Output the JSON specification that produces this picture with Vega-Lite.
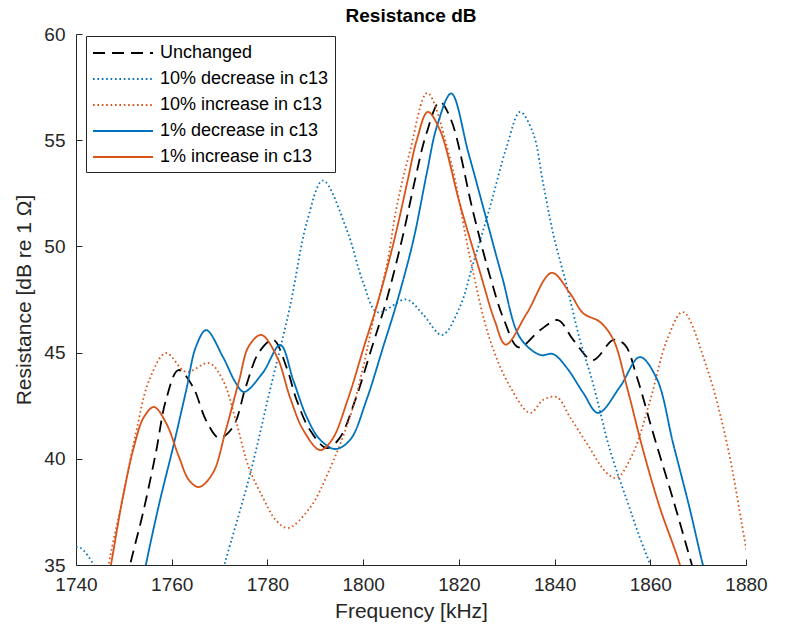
{
  "$schema": "https://vega.github.io/schema/vega-lite/v6.json",
  "width": 670,
  "height": 531,
  "autosize": {"type": "none"},
  "padding": {"left": 76, "top": 34, "right": 41, "bottom": 70},
  "background": "white",
  "config": {
    "font": "Liberation Sans",
    "view": {"stroke": null},
    "axis": {"grid": false, "domainColor": "#262626", "tickColor": "#262626", "labelColor": "#262626", "titleColor": "#262626", "labelFontSize": 19, "titleFontSize": 21, "titleFontWeight": "normal", "tickSize": -6, "labelFlush": false, "labelOverlap": false},
    "title": {"fontSize": 19, "fontWeight": "bold", "color": "#000000", "offset": -1}
  },
  "title": "Resistance dB",
  "data": {"values": [
    {"s":"Unchanged","f":1749,"v":32.5},{"s":"Unchanged","f":1751.3,"v":35},{"s":"Unchanged","f":1754,"v":37.45},{"s":"Unchanged","f":1756.7,"v":40.3},{"s":"Unchanged","f":1758.8,"v":42.77},{"s":"Unchanged","f":1761.4,"v":44.18},{"s":"Unchanged","f":1764.4,"v":43.4},{"s":"Unchanged","f":1767.2,"v":41.8},{"s":"Unchanged","f":1769.9,"v":40.98},{"s":"Unchanged","f":1772.8,"v":41.5},{"s":"Unchanged","f":1775.5,"v":43.4},{"s":"Unchanged","f":1778.2,"v":45},{"s":"Unchanged","f":1781.2,"v":45.6},{"s":"Unchanged","f":1784,"v":44.3},{"s":"Unchanged","f":1786.1,"v":42.77},{"s":"Unchanged","f":1788.9,"v":41.35},{"s":"Unchanged","f":1792.4,"v":40.5},{"s":"Unchanged","f":1795,"v":40.95},{"s":"Unchanged","f":1798.4,"v":42.8},{"s":"Unchanged","f":1801.9,"v":45.3},{"s":"Unchanged","f":1804.8,"v":47.4},{"s":"Unchanged","f":1808.2,"v":50.4},{"s":"Unchanged","f":1811,"v":53.3},{"s":"Unchanged","f":1813.2,"v":55.3},{"s":"Unchanged","f":1816,"v":56.8},{"s":"Unchanged","f":1818.3,"v":56.0},{"s":"Unchanged","f":1823,"v":51.6},{"s":"Unchanged","f":1826.5,"v":48.6},{"s":"Unchanged","f":1829.5,"v":46.5},{"s":"Unchanged","f":1832.5,"v":45.25},{"s":"Unchanged","f":1837,"v":46.06},{"s":"Unchanged","f":1840.7,"v":46.53},{"s":"Unchanged","f":1843.9,"v":45.6},{"s":"Unchanged","f":1848,"v":44.65},{"s":"Unchanged","f":1852.3,"v":45.6},{"s":"Unchanged","f":1854.7,"v":45.36},{"s":"Unchanged","f":1857.2,"v":43.85},{"s":"Unchanged","f":1860.6,"v":41.2},{"s":"Unchanged","f":1864.8,"v":38.06},{"s":"Unchanged","f":1868.7,"v":35},{"s":"Unchanged","f":1871.5,"v":32.8},

    {"s":"10% decrease in c13","f":1740,"v":35.85},{"s":"10% decrease in c13","f":1741,"v":35.8},{"s":"10% decrease in c13","f":1743.7,"v":35},{"s":"10% decrease in c13","f":1746,"v":33.5},{"s":"10% decrease in c13","f":1768,"v":32.5},{"s":"10% decrease in c13","f":1771,"v":35},{"s":"10% decrease in c13","f":1776.4,"v":39.3},{"s":"10% decrease in c13","f":1780.5,"v":43.2},{"s":"10% decrease in c13","f":1784.7,"v":47.15},{"s":"10% decrease in c13","f":1788.2,"v":51.1},{"s":"10% decrease in c13","f":1791.6,"v":53.1},{"s":"10% decrease in c13","f":1796.6,"v":50.77},{"s":"10% decrease in c13","f":1800,"v":48.3},{"s":"10% decrease in c13","f":1803,"v":46.9},{"s":"10% decrease in c13","f":1809,"v":47.5},{"s":"10% decrease in c13","f":1812.5,"v":46.8},{"s":"10% decrease in c13","f":1816.5,"v":45.83},{"s":"10% decrease in c13","f":1820.2,"v":47.15},{"s":"10% decrease in c13","f":1823,"v":49.2},{"s":"10% decrease in c13","f":1826.5,"v":51.85},{"s":"10% decrease in c13","f":1830,"v":54.7},{"s":"10% decrease in c13","f":1832.8,"v":56.33},{"s":"10% decrease in c13","f":1835.5,"v":55.34},{"s":"10% decrease in c13","f":1837.6,"v":52.98},{"s":"10% decrease in c13","f":1839.7,"v":50.6},{"s":"10% decrease in c13","f":1842.6,"v":48.09},{"s":"10% decrease in c13","f":1845.3,"v":45.6},{"s":"10% decrease in c13","f":1848,"v":43.57},{"s":"10% decrease in c13","f":1851.6,"v":40.4},{"s":"10% decrease in c13","f":1855.1,"v":38.06},{"s":"10% decrease in c13","f":1857.8,"v":36.3},{"s":"10% decrease in c13","f":1860,"v":35},{"s":"10% decrease in c13","f":1862.5,"v":33.3},

    {"s":"10% increase in c13","f":1745,"v":32.2},{"s":"10% increase in c13","f":1746.9,"v":35.1},{"s":"10% increase in c13","f":1749.8,"v":38.2},{"s":"10% increase in c13","f":1752.5,"v":41.2},{"s":"10% increase in c13","f":1755.3,"v":43.7},{"s":"10% increase in c13","f":1758.8,"v":44.98},{"s":"10% increase in c13","f":1763,"v":44.09},{"s":"10% increase in c13","f":1767.8,"v":44.51},{"s":"10% increase in c13","f":1770.7,"v":43.7},{"s":"10% increase in c13","f":1773.4,"v":41.8},{"s":"10% increase in c13","f":1776.1,"v":39.6},{"s":"10% increase in c13","f":1779,"v":38.2},{"s":"10% increase in c13","f":1781.8,"v":37.1},{"s":"10% increase in c13","f":1784.3,"v":36.74},{"s":"10% increase in c13","f":1788.9,"v":37.7},{"s":"10% increase in c13","f":1792.6,"v":39.3},{"s":"10% increase in c13","f":1797.3,"v":42},{"s":"10% increase in c13","f":1800,"v":44.3},{"s":"10% increase in c13","f":1802,"v":46.4},{"s":"10% increase in c13","f":1805,"v":49.2},{"s":"10% increase in c13","f":1807,"v":51.85},{"s":"10% increase in c13","f":1809.8,"v":54.5},{"s":"10% increase in c13","f":1813.4,"v":57.22},{"s":"10% increase in c13","f":1818.1,"v":54.2},{"s":"10% increase in c13","f":1822.3,"v":49.5},{"s":"10% increase in c13","f":1826.5,"v":45.6},{"s":"10% increase in c13","f":1830.7,"v":43.4},{"s":"10% increase in c13","f":1834.9,"v":42.16},{"s":"10% increase in c13","f":1837.6,"v":42.77},{"s":"10% increase in c13","f":1840.5,"v":42.9},{"s":"10% increase in c13","f":1843.2,"v":41.97},{"s":"10% increase in c13","f":1846.7,"v":40.74},{"s":"10% increase in c13","f":1850.9,"v":39.33},{"s":"10% increase in c13","f":1853,"v":39.1},{"s":"10% increase in c13","f":1856.4,"v":40.27},{"s":"10% increase in c13","f":1860,"v":42.77},{"s":"10% increase in c13","f":1863.5,"v":45.6},{"s":"10% increase in c13","f":1866.8,"v":46.91},{"s":"10% increase in c13","f":1871.8,"v":44.3},{"s":"10% increase in c13","f":1876,"v":40.74},{"s":"10% increase in c13","f":1880.1,"v":35.7},{"s":"10% increase in c13","f":1882,"v":33.5},

    {"s":"1% decrease in c13","f":1752.5,"v":32.5},{"s":"1% decrease in c13","f":1754.6,"v":35},{"s":"1% decrease in c13","f":1757.4,"v":37.9},{"s":"1% decrease in c13","f":1760.3,"v":40.56},{"s":"1% decrease in c13","f":1763,"v":43.2},{"s":"1% decrease in c13","f":1765.1,"v":45.3},{"s":"1% decrease in c13","f":1767.2,"v":46.06},{"s":"1% decrease in c13","f":1770.7,"v":44.8},{"s":"1% decrease in c13","f":1773.4,"v":43.57},{"s":"1% decrease in c13","f":1775.1,"v":43.15},{"s":"1% decrease in c13","f":1779,"v":44.04},{"s":"1% decrease in c13","f":1782.7,"v":45.36},{"s":"1% decrease in c13","f":1785.4,"v":43.7},{"s":"1% decrease in c13","f":1788.2,"v":41.97},{"s":"1% decrease in c13","f":1791,"v":40.9},{"s":"1% decrease in c13","f":1794.2,"v":40.46},{"s":"1% decrease in c13","f":1797.3,"v":40.9},{"s":"1% decrease in c13","f":1800.7,"v":42.77},{"s":"1% decrease in c13","f":1804.2,"v":45.28},{"s":"1% decrease in c13","f":1807,"v":47.32},{"s":"1% decrease in c13","f":1810.5,"v":50.3},{"s":"1% decrease in c13","f":1813.3,"v":53.45},{"s":"1% decrease in c13","f":1815.4,"v":55.64},{"s":"1% decrease in c13","f":1818.4,"v":57.2},{"s":"1% decrease in c13","f":1822,"v":54.4},{"s":"1% decrease in c13","f":1825.5,"v":51.5},{"s":"1% decrease in c13","f":1829,"v":48.6},{"s":"1% decrease in c13","f":1832.8,"v":45.7},{"s":"1% decrease in c13","f":1837,"v":44.89},{"s":"1% decrease in c13","f":1839.7,"v":44.93},{"s":"1% decrease in c13","f":1842.5,"v":44.3},{"s":"1% decrease in c13","f":1846,"v":43.1},{"s":"1% decrease in c13","f":1849.1,"v":42.16},{"s":"1% decrease in c13","f":1853.7,"v":43.4},{"s":"1% decrease in c13","f":1857.8,"v":44.79},{"s":"1% decrease in c13","f":1861.3,"v":43.8},{"s":"1% decrease in c13","f":1864.8,"v":40.7},{"s":"1% decrease in c13","f":1868.3,"v":37.6},{"s":"1% decrease in c13","f":1871,"v":35},{"s":"1% decrease in c13","f":1874,"v":32.5},

    {"s":"1% increase in c13","f":1745.3,"v":32.5},{"s":"1% increase in c13","f":1747.3,"v":35},{"s":"1% increase in c13","f":1749.8,"v":38.2},{"s":"1% increase in c13","f":1752.1,"v":40.56},{"s":"1% increase in c13","f":1754.2,"v":41.97},{"s":"1% increase in c13","f":1756.3,"v":42.44},{"s":"1% increase in c13","f":1758.8,"v":41.7},{"s":"1% increase in c13","f":1761.5,"v":40.1},{"s":"1% increase in c13","f":1763.6,"v":39},{"s":"1% increase in c13","f":1765.7,"v":38.67},{"s":"1% increase in c13","f":1768.6,"v":39.33},{"s":"1% increase in c13","f":1771.3,"v":41.35},{"s":"1% increase in c13","f":1774.1,"v":43.7},{"s":"1% increase in c13","f":1776.1,"v":45.3},{"s":"1% increase in c13","f":1778.7,"v":45.83},{"s":"1% increase in c13","f":1782,"v":44.8},{"s":"1% increase in c13","f":1784.7,"v":42.9},{"s":"1% increase in c13","f":1787.5,"v":41.35},{"s":"1% increase in c13","f":1791,"v":40.41},{"s":"1% increase in c13","f":1793.5,"v":40.9},{"s":"1% increase in c13","f":1796.8,"v":42.8},{"s":"1% increase in c13","f":1800.2,"v":45.3},{"s":"1% increase in c13","f":1803.1,"v":47.4},{"s":"1% increase in c13","f":1806.5,"v":50.3},{"s":"1% increase in c13","f":1809.3,"v":53.1},{"s":"1% increase in c13","f":1811.2,"v":55},{"s":"1% increase in c13","f":1813.5,"v":56.33},{"s":"1% increase in c13","f":1816,"v":55.5},{"s":"1% increase in c13","f":1820.2,"v":52.0},{"s":"1% increase in c13","f":1824.4,"v":48.8},{"s":"1% increase in c13","f":1827.5,"v":46.5},{"s":"1% increase in c13","f":1829.8,"v":45.38},{"s":"1% increase in c13","f":1834.2,"v":46.85},{"s":"1% increase in c13","f":1839.4,"v":48.75},{"s":"1% increase in c13","f":1843.2,"v":47.8},{"s":"1% increase in c13","f":1846,"v":46.85},{"s":"1% increase in c13","f":1849.5,"v":46.44},{"s":"1% increase in c13","f":1852.3,"v":45.6},{"s":"1% increase in c13","f":1855.1,"v":43.4},{"s":"1% increase in c13","f":1858.5,"v":40.4},{"s":"1% increase in c13","f":1862,"v":37.7},{"s":"1% increase in c13","f":1866.2,"v":35},{"s":"1% increase in c13","f":1869,"v":32.5}
  ]},
  "mark": {"type": "line", "clip": true, "interpolate": "catmull-rom", "strokeWidth": 1.8},
  "encoding": {
    "x": {"field": "f", "type": "quantitative", "title": "Frequency [kHz]", "scale": {"domain": [1740, 1880], "nice": false, "zero": false}, "axis": {"values": [1740,1760,1780,1800,1820,1840,1860,1880], "format": "d", "labelPadding": 16, "titlePadding": 6}},
    "y": {"field": "v", "type": "quantitative", "title": "Resistance [dB re 1 Ω]", "scale": {"domain": [35, 60], "nice": false, "zero": false}, "axis": {"values": [35,40,45,50,55,60], "labelPadding": 17, "titlePadding": 9}},
    "color": {"field": "s", "type": "nominal", "title": null, "sort": ["Unchanged","10% decrease in c13","10% increase in c13","1% decrease in c13","1% increase in c13"],
      "scale": {"domain": ["Unchanged","10% decrease in c13","10% increase in c13","1% decrease in c13","1% increase in c13"], "range": ["#000000","#0072BD","#D95319","#0072BD","#D95319"]},
      "legend": {"orient": "none", "legendX": 10, "legendY": 2, "strokeColor": "#262626", "fillColor": "white", "padding": 6, "labelFontSize": 18, "labelColor": "#000000", "symbolType": "M-3,0H3", "symbolSize": 400, "symbolOffset": 20, "symbolStrokeWidth": 2, "labelLimit": 0, "labelOffset": 26, "rowPadding": 6}},
    "strokeDash": {"field": "s", "type": "nominal", "title": null, "sort": ["Unchanged","10% decrease in c13","10% increase in c13","1% decrease in c13","1% increase in c13"],
      "scale": {"domain": ["Unchanged","10% decrease in c13","10% increase in c13","1% decrease in c13","1% increase in c13"], "range": [[12,7],[1.6,2.8],[1.6,2.8],[1,0],[1,0]]}}
  }
}
